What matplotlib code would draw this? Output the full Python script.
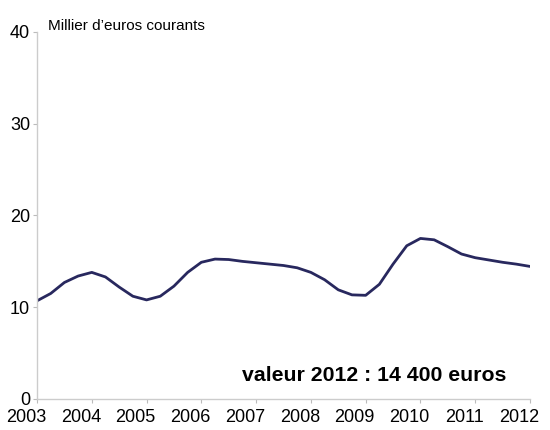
import numpy as np
import matplotlib.pyplot as plt
import matplotlib.transforms as mtransforms

plt.rcParams['font.family'] = ['Liberation Sans', 'DejaVu Sans']

# quarterly readings, thousand euros (courants)
start_year = 2003
values = [10.7, 11.5, 12.7, 13.4, 13.8, 13.3, 12.2, 11.2,
          10.8, 11.2, 12.3, 13.8, 14.9, 15.25, 15.2, 15.0,
          14.85, 14.7, 14.55, 14.3, 13.8, 13.0, 11.9, 11.35,
          11.3, 12.5, 14.7, 16.7, 17.5, 17.35, 16.6, 15.8,
          15.4, 15.15, 14.9, 14.7, 14.45]
years = list(range(2003, 2013))
yticks = [0, 10, 20, 30, 40]

x = start_year + np.arange(len(values)) * 0.25

fig = plt.figure(figsize=(5.5, 4.3), dpi=100)
ax = fig.add_axes([0.0673, 0.0721, 0.8963, 0.8535])

ax.plot(x, values, color='#28285e', lw=2.0, solid_joinstyle='round',
        solid_capstyle='round')

ax.set_xlim(2003, 2012)
ax.set_ylim(0, 40)
ax.set_xticks(years)
ax.set_xticklabels([str(y) for y in years])
ax.set_yticks(yticks)

for s in ['top', 'right']:
    ax.spines[s].set_visible(False)
for s in ['left', 'bottom']:
    ax.spines[s].set_color('#cccccc')
    ax.spines[s].set_linewidth(1.0)

ax.tick_params(axis='both', colors='#bbbbbb', labelcolor='black',
               labelsize=13, length=3, width=0.8)
ax.tick_params(axis='x', pad=4)
ax.tick_params(axis='y', pad=2)

# category labels sit slightly left of the ticks
offset = mtransforms.ScaledTranslation(-11 / 100, 0, fig.dpi_scale_trans)
for lab in ax.get_xticklabels():
    lab.set_transform(lab.get_transform() + offset)

fig.text(48 / 550, 1 - 26 / 430, 'Millier d\u2019euros courants',
         fontsize=11, va='center', ha='left')
ax.text(0.953, 0.063, 'valeur 2012 : 14 400 euros', transform=ax.transAxes,
        fontsize=15.3, fontweight='bold', ha='right', va='center')

fig.savefig('out.png', dpi=100)
